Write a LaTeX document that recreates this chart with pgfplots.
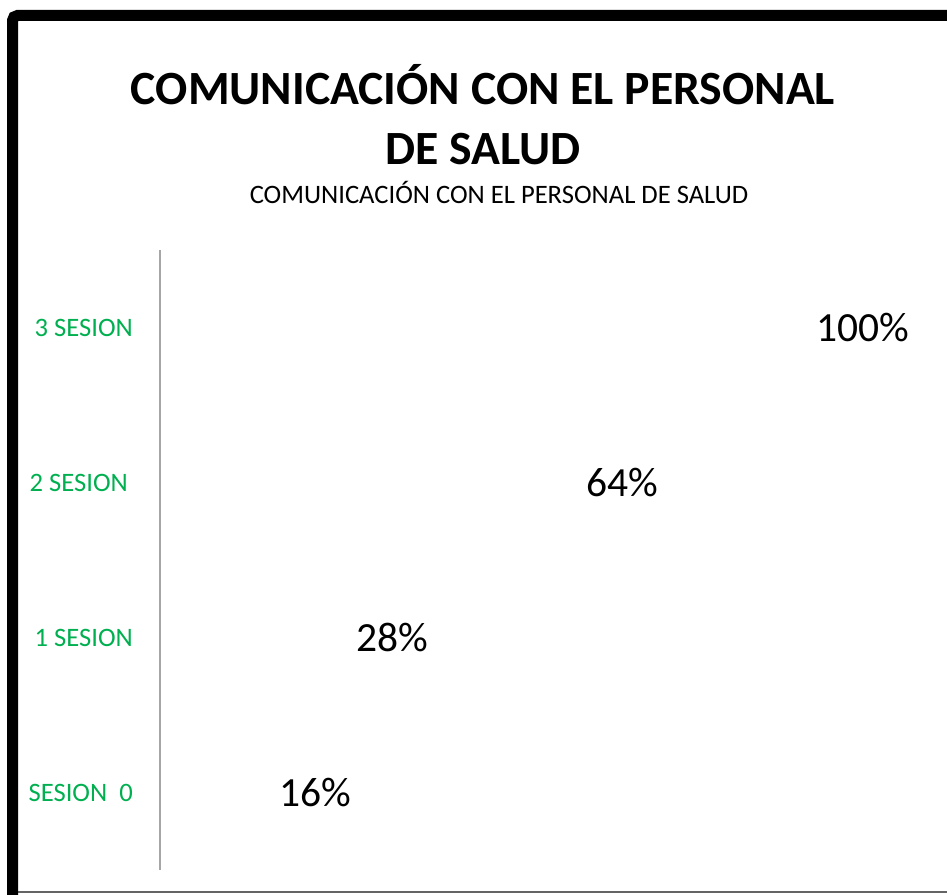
\documentclass[border=0pt]{standalone}
\usepackage{pgfplots}
\pgfplotsset{compat=1.18}
\usepackage{fontspec}
\setmainfont{Carlito}
\definecolor{labgreen}{HTML}{00B050}
\definecolor{axgray}{HTML}{A6A6A6}
\begin{document}
\begin{tikzpicture}[x=1bp,y=1bp]
\useasboundingbox (0,0) rectangle (947,895);
\fill[white] (0,0) rectangle (947,895);
% frame
\draw[axgray!60!black, line width=1.5bp] (12,3) -- (947,3);
\draw[black, line width=11bp, rounded corners=5bp] (12.5,0) -- (12.5,879.5) -- (947,879.5);
% titles
\node[anchor=base, inner sep=0, font=\fontsize{47.7bp}{60bp}\selectfont\bfseries] at (483,790) {COMUNICACIÓN CON EL PERSONAL};
\node[anchor=base, inner sep=0, font=\fontsize{47.7bp}{60bp}\selectfont\bfseries] at (483,730) {DE SALUD};
\node[anchor=base, inner sep=0, font=\fontsize{26.6bp}{32bp}\selectfont] at (499,691) {COMUNICACIÓN CON EL PERSONAL DE SALUD};
\begin{axis}[
  at={(160bp,25bp)}, anchor=south west,
  scale only axis, width=639bp, height=620bp,
  xbar, bar width=40bp,
  xmin=0, xmax=100, ymin=-0.5, ymax=3.5,
  axis x line=none,
  axis y line=left,
  axis line style={draw=axgray, line width=1.6bp, -},
  ytick={0,1,2,3},
  yticklabels={SESION\ \ 0, 1 SESION, 2 SESION\hspace*{5bp}, 3 SESION},
  major tick length=0pt,
  yticklabel style={inner sep=0pt, xshift=-27bp, text=labgreen, font=\fontsize{26.6bp}{32bp}\selectfont},
  /pgf/number format/assume math mode=true,
  nodes near coords={\pgfmathprintnumber[assume math mode=true]{\pgfplotspointmeta}\%},
  nodes near coords style={anchor=west, inner sep=0pt, xshift=17bp, text=black, font=\fontsize{41.5bp}{48bp}\selectfont},
  point meta=x,
  clip=false,
  axis on top,
]
\addplot[fill=none, draw=none] coordinates {(16,0) (28,1) (64,2) (100,3)};
\end{axis}
\end{tikzpicture}
\end{document}
